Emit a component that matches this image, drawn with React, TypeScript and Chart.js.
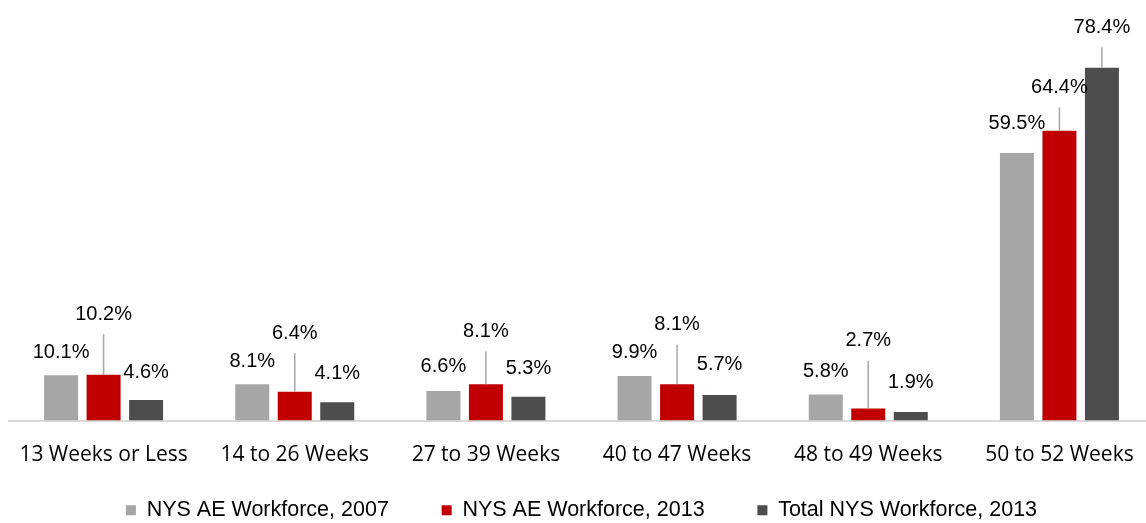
import React, { useEffect, useRef } from "react";
import { Chart, registerables } from "chart.js";

Chart.register(...registerables);

const categories = [
  "13 Weeks or Less",
  "14 to 26 Weeks",
  "27 to 39 Weeks",
  "40 to 47 Weeks",
  "48 to 49 Weeks",
  "50 to 52 Weeks",
];
const seriesNames = [
  "NYS AE Workforce, 2007",
  "NYS AE Workforce, 2013",
  "Total NYS Workforce, 2013",
];
const ae2007 = [10.1, 8.1, 6.6, 9.9, 5.8, 59.5];
const ae2013 = [10.2, 6.4, 8.1, 8.1, 2.7, 64.4];
const total2013 = [4.6, 4.1, 5.3, 5.7, 1.9, 78.4];

// label placement (pixels above bar top) — kept apart from the data
const labelLift = [
  [24, 24, 26, 25, 24.5, 31],
  [62, 60, 54.5, 61, 69, 45],
  [29, 30, 30, 31.5, 31, 42],
];
const colors = ["#a6a6a6", "#c00000", "#4d4d4d"];

const labelPlugin = {
  id: "barLabels",
  afterDatasetsDraw(chart: any) {
    const ctx = chart.ctx;
    ctx.save();
    ctx.font = '20px "Liberation Sans", Arial, sans-serif';
    ctx.textAlign = "center";
    ctx.textBaseline = "middle";
    chart.data.datasets.forEach((ds: any, i: number) => {
      const meta = chart.getDatasetMeta(i);
      meta.data.forEach((bar: any, j: number) => {
        const { x, y } = bar.getProps(["x", "y"], true);
        const lift = labelLift[i][j];
        const cy = y - lift + 1.5;
        if (lift > 40) {
          ctx.strokeStyle = "#a6a6a6";
          ctx.lineWidth = 1.5;
          ctx.beginPath();
          ctx.moveTo(x, cy + 20);
          ctx.lineTo(x, y);
          ctx.stroke();
        }
        ctx.fillStyle = "#000000";
        ctx.fillText(ds.data[j].toFixed(1) + "%", x, cy);
      });
    });
    ctx.restore();
  },
};

export default function App() {
  const ref = useRef<HTMLCanvasElement>(null);
  useEffect(() => {
    document.documentElement.style.overflow = "hidden";
    document.body.style.overflow = "hidden";
    const values = [ae2007, ae2013, total2013];
    const chart = new Chart(ref.current as HTMLCanvasElement, {
      type: "bar",
      data: {
        labels: categories,
        datasets: values.map((v, i) => ({
          label: seriesNames[i],
          data: v,
          backgroundColor: colors[i],
          borderWidth: 0,
          categoryPercentage: 0.667,
          barPercentage: 0.8,
        })),
      },
      options: {
        responsive: false,
        animation: false,
        devicePixelRatio: 1,
        layout: { padding: 0 },
        scales: {
          x: {
            offset: true,
            grid: { display: false, drawTicks: false },
            border: { display: true, color: "#d9d9d9", width: 2 },
            ticks: {
              color: "#000000",
              font: { family: '"Open Sans", sans-serif', size: 21, lineHeight: 2.28 },
              padding: 10,
              maxRotation: 0,
              autoSkip: false,
            },
          },
          y: { display: false, min: 0, max: 91.7 },
        },
        plugins: {
          legend: {
            position: "bottom",
            labels: {
              boxWidth: 10,
              boxHeight: 10,
              padding: 11,
              color: "#000000",
              font: { family: '"Liberation Sans", Arial, sans-serif', size: 21.5 },
              generateLabels: (c: any) => {
                const items = Chart.defaults.plugins.legend.labels.generateLabels(c);
                return items.map((it: any, k: number) =>
                  k < items.length - 1
                    ? { ...it, text: it.text + "\u00a0\u00a0\u00a0\u00a0\u00a0\u00a0\u00a0" }
                    : it
                );
              },
            },
          },
          tooltip: { enabled: false },
        },
      },
      plugins: [labelPlugin],
    });
    return () => chart.destroy();
  }, []);
  return (
    <div
      style={{
        position: "fixed",
        left: 0,
        top: 0,
        width: 1146,
        height: 523,
        overflow: "hidden",
        background: "#ffffff",
      }}
    >
      <canvas
        ref={ref}
        width={1147}
        height={523}
        style={{ position: "absolute", left: 8, top: 8 }}
      />
    </div>
  );
}
